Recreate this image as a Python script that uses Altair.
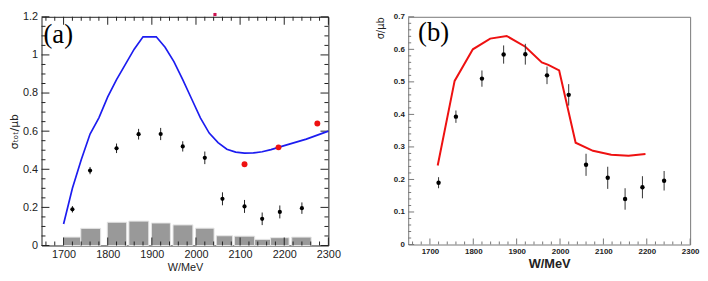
import altair as alt
import pandas as pd

# ---------------- data ----------------
W_data = [1720, 1760, 1820, 1870, 1920, 1970, 2020, 2060, 2110, 2150, 2190, 2240]
sigma = [0.190, 0.393, 0.510, 0.584, 0.585, 0.520, 0.460, 0.245, 0.205, 0.140, 0.176, 0.196]
sigma_err = [0.017, 0.019, 0.025, 0.028, 0.032, 0.027, 0.033, 0.034, 0.034, 0.033, 0.034, 0.030]

a_line_W = [1700, 1720, 1740, 1760, 1780, 1800, 1820, 1840, 1860, 1880, 1910, 1930, 1950,
            1970, 1990, 2010, 2030, 2050, 2070, 2090, 2110, 2130, 2150, 2170, 2200, 2250, 2300]
a_line_v = [0.113, 0.30, 0.45, 0.585, 0.67, 0.78, 0.87, 0.95, 1.03, 1.095, 1.095, 1.04, 0.965,
            0.87, 0.77, 0.67, 0.59, 0.54, 0.505, 0.49, 0.485, 0.486, 0.492, 0.503, 0.524, 0.558, 0.60]

a_red_W = [2110, 2187, 2275]
a_red_v = [0.426, 0.515, 0.640]
a_top_W = [2043]
a_top_v = [1.212]

bar_lo = [1700, 1739, 1799, 1848, 1899, 1948, 1999, 2046, 2087, 2133, 2169, 2217]
bar_hi = [1739, 1784, 1843, 1893, 1942, 1993, 2041, 2083, 2133, 2169, 2211, 2261]
bar_v = [0.044, 0.090, 0.122, 0.128, 0.118, 0.108, 0.091, 0.051, 0.049, 0.032, 0.041, 0.044]

b_line_W = [1718, 1757, 1799, 1839, 1877, 1920, 1958, 1973, 1998, 2036, 2076, 2118, 2158, 2197]
b_line_v = [0.243, 0.503, 0.600, 0.633, 0.641, 0.608, 0.560, 0.552, 0.535, 0.313, 0.288, 0.276, 0.273, 0.278]

x_major = [1700, 1800, 1900, 2000, 2100, 2200, 2300]
x_minor = [w for w in range(1660, 2300, 20) if w % 100 != 0]
ya_major = [0, 0.2, 0.4, 0.6, 0.8, 1.0, 1.2]
ya_minor = [round(0.05 * i, 2) for i in range(25) if i % 4 != 0]
yb_major = [0, 0.1, 0.2, 0.3, 0.4, 0.5, 0.6, 0.7]
yb_minor = [round(0.02 * i, 2) for i in range(36) if i % 5 != 0]

X_LO, X_HI = 1650, 2300

df_pts = pd.DataFrame({"W": W_data, "v": sigma,
                       "lo": [s - e for s, e in zip(sigma, sigma_err)],
                       "hi": [s + e for s, e in zip(sigma, sigma_err)]})
df_aline = pd.DataFrame({"W": a_line_W, "v": a_line_v})
df_red = pd.DataFrame({"W": a_red_W, "v": a_red_v})
df_top = pd.DataFrame({"W": a_top_W, "v": a_top_v})
df_bars = pd.DataFrame({"lo": bar_lo, "hi": bar_hi, "v": bar_v})
df_bline = pd.DataFrame({"W": b_line_W, "v": b_line_v})


def make_panel(ymax, y_major, y_minor, ytitle, lab_size, lab_weight,
               xt_size, xt_weight, yt_size, tick_color, ytitle_anchor, ytitle_pad, right_top_ticks,
               maj_len, min_len):
    xs = alt.Scale(domain=[X_LO, X_HI], nice=False, zero=False)
    ys = alt.Scale(domain=[0, ymax], nice=False, zero=True)
    ax_x = alt.Axis(values=x_major, format="d", ticks=False, domain=False, grid=False,
                    labelFont="Liberation Sans", labelFontSize=lab_size, labelFontWeight=lab_weight,
                    labelColor="#222", labelPadding=3, labelFlush=False, labelOverlap=False,
                    titleFont="Liberation Sans", titleFontSize=xt_size, titleFontWeight=xt_weight,
                    titleColor="#222", titlePadding=2)
    ax_y = alt.Axis(values=y_major, format="~g", ticks=False, domain=False, grid=False,
                    labelFont="Liberation Sans", labelFontSize=lab_size, labelFontWeight=lab_weight,
                    labelColor="#222", labelPadding=4, labelFlush=False, labelOverlap=False,
                    titleFont="DejaVu Sans", titleFontSize=yt_size, titleFontWeight="normal",
                    titleColor="#222", titlePadding=ytitle_pad, titleAnchor=ytitle_anchor)

    def X(field):
        return alt.X(field, type="quantitative", scale=xs, axis=ax_x, title="W/MeV")

    def Y(field):
        return alt.Y(field, type="quantitative", scale=ys, axis=ax_y, title=ytitle)

    def XD(v):
        return alt.XDatum(v, type="quantitative", scale=xs, axis=ax_x, title="W/MeV")

    def YD(v):
        return alt.YDatum(v, type="quantitative", scale=ys, axis=ax_y, title=ytitle)

    def xticks(vals, edge, length, direction):
        d = pd.DataFrame({"t": vals})
        return alt.Chart(d).mark_tick(color=tick_color, orient="vertical", size=length,
                                      thickness=1, opacity=1,
                                      yOffset=direction * length / 2).encode(
            x=X("t"), y=YD(edge))

    def yticks(vals, edge, length, direction):
        d = pd.DataFrame({"t": vals})
        return alt.Chart(d).mark_tick(color=tick_color, orient="horizontal", size=length,
                                      thickness=1, opacity=1,
                                      xOffset=direction * length / 2).encode(
            y=Y("t"), x=XD(edge))

    layers = [xticks(x_major, 0, maj_len, -1), xticks(x_minor, 0, min_len, -1),
              yticks(y_major, X_LO, maj_len, 1), yticks(y_minor, X_LO, min_len, 1)]
    if right_top_ticks:
        layers += [xticks(x_major, ymax, maj_len, 1), xticks(x_minor, ymax, min_len, 1),
                   yticks(y_major, X_HI, maj_len, -1), yticks(y_minor, X_HI, min_len, -1)]
    return X, Y, layers


# ---------------- panel (a) ----------------
Xa, Ya, ticks_a = make_panel(1.2, ya_major, ya_minor, "σₜₒₜ/μb",
                             11, "normal", 11, "normal", 11, "#222",
                             "middle", 3, True, 8, 4)

bars = alt.Chart(df_bars).mark_rect(color="#999999", stroke="#e6e6e6", strokeWidth=1).encode(
    x=Xa("lo"), x2="hi", y=Ya("v"), y2=alt.datum(0))
aline = alt.Chart(df_aline).mark_line(color="#1c1cf0", strokeWidth=1.7).encode(x=Xa("W"), y=Ya("v"))
err_a = alt.Chart(df_pts).mark_rule(color="#222", strokeWidth=1).encode(x=Xa("W"), y=Ya("lo"), y2="hi")
pts_a = alt.Chart(df_pts).mark_circle(color="#000", opacity=1, size=18).encode(x=Xa("W"), y=Ya("v"))
red_a = alt.Chart(df_red).mark_circle(color="#ee1111", opacity=1, size=36).encode(x=Xa("W"), y=Ya("v"))
top_a = alt.Chart(df_top).mark_square(color="#cc1150", opacity=1, size=10, clip=False).encode(
    x=Xa("W"), y=Ya("v"))
lab_a = alt.Chart(pd.DataFrame({"t": ["(a)"]})).mark_text(
    font="Liberation Serif", fontSize=27, align="left", baseline="alphabetic", color="#000").encode(
    x=alt.value(2), y=alt.value(27), text="t:N")

panel_a = alt.layer(bars, *ticks_a, aline, err_a, pts_a, red_a, top_a, lab_a).properties(
    width=291, height=232, view=alt.ViewBackground(stroke="#222", strokeWidth=1))

# ---------------- panel (b) ----------------
Xb, Yb, ticks_b = make_panel(0.7, yb_major, yb_minor, "σ/μb",
                             8, "bold", 13, "bold", 10, "#777",
                             "end", 8, False, 6, 3)

bline = alt.Chart(df_bline).mark_line(color="#ee1111", strokeWidth=2).encode(x=Xb("W"), y=Yb("v"))
err_b = alt.Chart(df_pts).mark_rule(color="#333", strokeWidth=1).encode(x=Xb("W"), y=Yb("lo"), y2="hi")
pts_b = alt.Chart(df_pts).mark_circle(color="#000", opacity=1, size=20).encode(x=Xb("W"), y=Yb("v"))
lab_b = alt.Chart(pd.DataFrame({"t": ["(b)"]})).mark_text(
    font="Liberation Serif", fontSize=27, align="left", baseline="alphabetic", color="#000").encode(
    x=alt.value(10), y=alt.value(25), text="t:N")

panel_b = alt.layer(*ticks_b, bline, err_b, pts_b, lab_b).properties(
    width=286, height=231, view=alt.ViewBackground(stroke="#777", strokeWidth=1))

chart = alt.hconcat(panel_a, panel_b, spacing=81, bounds="flush").properties(
    padding=0, background="white")

chart.save("out.html", embed_options={"renderer": "svg", "actions": False})
